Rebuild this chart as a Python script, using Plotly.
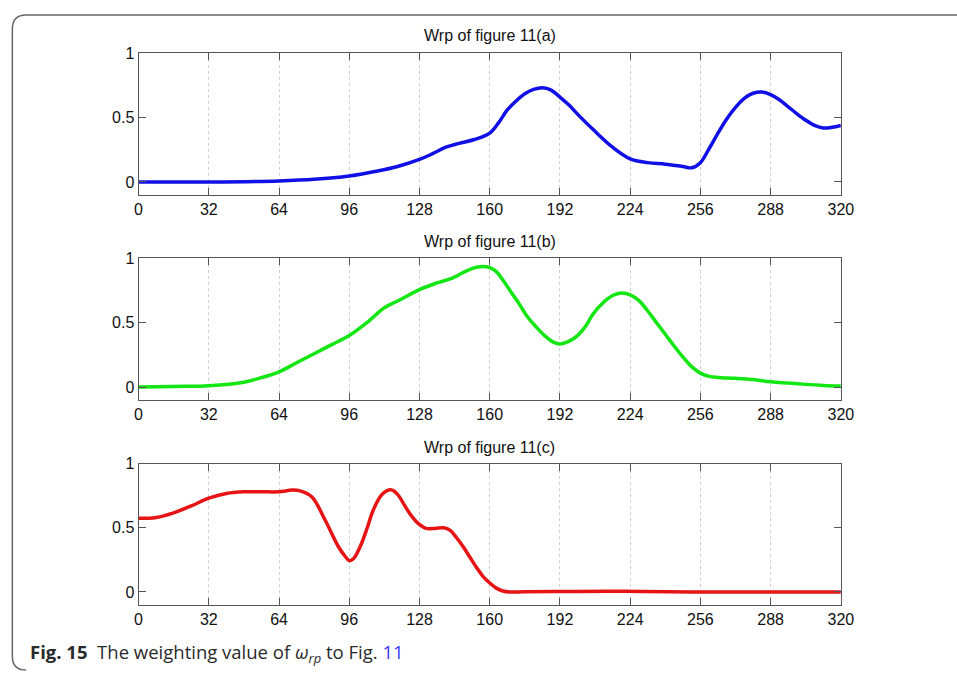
import plotly.graph_objects as go

W, H = 957, 673

# ---- data ----
x_a = [0, 32, 64, 80, 96, 109, 118, 128, 134, 140, 146, 153, 160, 164, 168, 172, 176, 180, 184, 188, 192,
       196, 201, 207, 216, 224, 232, 240, 248, 252, 256, 260, 264, 268, 272, 276, 280, 284, 288, 292,
       296, 300, 304, 308, 312, 316, 320]
y_a = [0.0, 0.0, 0.008, 0.02, 0.046, 0.085, 0.12, 0.175, 0.22, 0.27, 0.30, 0.33, 0.38, 0.46, 0.56, 0.63,
       0.687, 0.72, 0.733, 0.715, 0.66, 0.60, 0.51, 0.41, 0.27, 0.18, 0.15, 0.138, 0.12, 0.11, 0.15,
       0.26, 0.38, 0.49, 0.58, 0.65, 0.69, 0.70, 0.68, 0.64, 0.585, 0.53, 0.48, 0.44, 0.42, 0.425,
       0.44]

x_b = [0, 16, 32, 48, 56, 64, 72, 80, 88, 96, 104, 112, 118, 128, 136, 143, 150, 154, 157, 160, 163,
       166, 170, 174, 177, 181, 185, 189, 192, 196, 200, 204, 207, 212, 216, 220, 224, 228, 232,
       236, 240, 244, 248, 252, 256, 260, 264, 272, 280, 288, 296, 304, 312, 320]
y_b = [0.003, 0.007, 0.013, 0.04, 0.075, 0.12, 0.19, 0.26, 0.33, 0.40, 0.50, 0.615, 0.667, 0.756,
       0.807, 0.845, 0.905, 0.928, 0.934, 0.925, 0.895, 0.83, 0.73, 0.63, 0.55, 0.47, 0.40, 0.35,
       0.336, 0.355, 0.40, 0.48, 0.565, 0.66, 0.71, 0.73, 0.715, 0.67, 0.59, 0.50, 0.41, 0.32, 0.235,
       0.16, 0.11, 0.085, 0.077, 0.07, 0.06, 0.043, 0.033, 0.023, 0.015, 0.01]

x_c = [0, 8, 16, 24, 32, 40, 48, 56, 64, 70, 74, 79, 85, 91, 94, 96, 98, 101, 104, 107, 111, 115, 118,
       121, 124, 127, 131, 135, 139, 142, 145, 148, 151, 154, 157, 160, 163, 166, 169, 176, 200, 216,
       230, 256, 288, 320]
y_c = [0.573, 0.58, 0.616, 0.67, 0.73, 0.767, 0.78, 0.78, 0.78, 0.793, 0.785, 0.74, 0.56, 0.354,
       0.28, 0.244, 0.26, 0.354, 0.49, 0.64, 0.76, 0.795, 0.76, 0.68, 0.60, 0.54, 0.495, 0.495, 0.50,
       0.48, 0.42, 0.35, 0.27, 0.19, 0.12, 0.07, 0.03, 0.008, 0.0, 0.002, 0.004, 0.006, 0.004, 0.0,
       0.0, 0.0]

titles = ["Wrp of figure 11(a)", "Wrp of figure 11(b)", "Wrp of figure 11(c)"]
colors = ["#1010e6", "#14e614", "#e61414"]
x_ticks = [0, 32, 64, 96, 128, 160, 192, 224, 256, 288, 320]
y_ticks = [0, 0.5, 1]
y_tick_text = ["0", "0.5", "1"]

series = [(x_a, y_a), (x_b, y_b), (x_c, y_c)]

# ---- layout geometry (pixels) ----
left_px, right_px = 137, 852
panels_px = [(46, 189), (253, 397), (461, 604)]   # (top, bottom)
title_px = [28, 236, 445]

fig = go.Figure()
layout = dict(width=W, height=H, margin=dict(l=0, r=0, t=0, b=0),
              paper_bgcolor="white", plot_bgcolor="white", showlegend=False)

axis_common = dict(showline=True, linecolor="#555555", linewidth=1, mirror="ticks",
                   ticks="inside", ticklen=7, tickcolor="#555555", tickwidth=1,
                   tickfont=dict(family="Liberation Sans, Arial", size=16, color="#111111"),
                   zeroline=False)

annotations = []
for i, ((xs, ys), col, (top, bot)) in enumerate(zip(series, colors, panels_px)):
    n = "" if i == 0 else str(i + 1)
    fig.add_trace(go.Scatter(x=xs, y=ys, mode="lines",
                             line=dict(color=col, width=3.5, shape="spline", smoothing=1.0),
                             xaxis="x" + n, yaxis="y" + n, hoverinfo="skip"))
    layout["xaxis" + n] = dict(axis_common, domain=[left_px / W, right_px / W], range=[0, 320],
                               tickvals=x_ticks, showgrid=True, gridcolor="#cfcfcf",
                               griddash="dot", gridwidth=1, anchor="y" + n)
    layout["yaxis" + n] = dict(axis_common, domain=[1 - bot / H, 1 - top / H], range=[-0.1, 1],
                               tickvals=y_ticks, ticktext=y_tick_text, showgrid=False, anchor="x" + n)
    annotations.append(dict(text=titles[i], x=(left_px + right_px) / 2 / W, y=1 - title_px[i] / H,
                            xref="paper", yref="paper", xanchor="center", yanchor="middle",
                            showarrow=False, font=dict(family="Liberation Sans, Arial", size=16, color="#111111")))

annotations.append(dict(
    text="<b>Fig. 15</b>\u00a0\u00a0The weighting value of <i>ω<sub>rp</sub></i> to Fig. <span style='color:#3b3bff'>11</span>",
    x=24 / W, y=1 - 653 / H, xref="paper", yref="paper", xanchor="left", yanchor="middle",
    showarrow=False, font=dict(family="Open Sans", size=18.5, color="#2a2a2a")))

layout["annotations"] = annotations

# outer rounded border
x0, y0, x1, r = 8.5, 7, 975, 14
def px(x): return x / W
def py(y): return 1 - y / H
path = (f"M {px(x0)},{py(y0 + r)} Q {px(x0)},{py(y0)} {px(x0 + r)},{py(y0)} L {px(x1)},{py(y0)} "
        f"M {px(x0)},{py(y0 + r)} L {px(x0)},{py(670 - r)} Q {px(x0)},{py(670)} {px(x0 + r)},{py(670)}")
layout["shapes"] = [dict(type="path", path=path, xref="paper", yref="paper",
                         line=dict(color="#666666", width=1.5))]

fig.update_layout(**layout)
fig.write_html("out.html")
